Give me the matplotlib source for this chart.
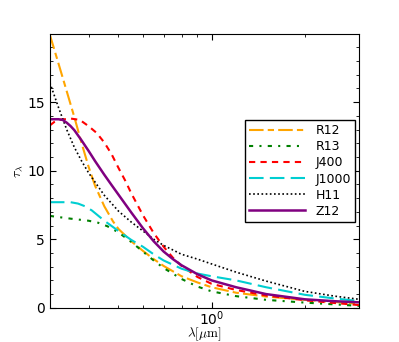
import matplotlib
matplotlib.use("Agg")
import matplotlib.pyplot as plt
from matplotlib.ticker import MultipleLocator, NullFormatter

# wavelength grids (micron) and extinction values
x_r12 = [0.30, 0.32, 0.34, 0.36, 0.38, 0.40, 0.42, 0.45, 0.48, 0.50, 0.55, 0.60, 0.65, 0.70, 0.80, 0.90, 1.00, 1.20, 1.50, 2.00, 2.50, 3.00]
y_r12 = [19.9, 17.8, 15.8, 13.9, 12.0, 10.3, 8.9, 7.4, 6.3, 5.75, 4.85, 4.15, 3.55, 3.05, 2.3, 1.85, 1.5, 1.1, 0.82, 0.58, 0.42, 0.30]

x_r13 = [0.30, 0.35, 0.40, 0.43, 0.46, 0.50, 0.55, 0.60, 0.65, 0.70, 0.80, 0.90, 1.00, 1.20, 1.50, 2.00, 2.50, 3.00]
y_r13 = [6.7, 6.5, 6.35, 6.2, 5.95, 5.5, 4.8, 4.1, 3.45, 2.9, 2.1, 1.55, 1.2, 0.85, 0.58, 0.38, 0.25, 0.14]

x_j400 = [0.30, 0.31, 0.32, 0.35, 0.375, 0.40, 0.425, 0.45, 0.475, 0.50, 0.525, 0.55, 0.60, 0.65, 0.70, 0.75, 0.80, 0.90, 1.00, 1.20, 1.50, 2.00, 2.50, 3.00]
y_j400 = [13.3, 13.55, 13.7, 13.8, 13.7, 13.25, 12.75, 12.05, 11.2, 10.2, 9.3, 8.35, 6.75, 5.45, 4.45, 3.65, 3.05, 2.25, 1.75, 1.3, 0.9, 0.55, 0.35, 0.2]

x_j1000 = [0.30, 0.33, 0.35, 0.37, 0.39, 0.41, 0.45, 0.50, 0.55, 0.60, 0.65, 0.70, 0.80, 0.90, 1.00, 1.20, 1.50, 2.00, 2.50, 3.00]
y_j1000 = [7.7, 7.7, 7.7, 7.6, 7.4, 7.1, 6.35, 5.6, 4.95, 4.45, 3.9, 3.45, 2.85, 2.5, 2.3, 2.0, 1.5, 0.95, 0.68, 0.49]

x_h11 = [0.30, 0.32, 0.34, 0.36, 0.38, 0.40, 0.45, 0.50, 0.55, 0.60, 0.65, 0.70, 0.80, 0.90, 1.00, 1.20, 1.50, 2.00, 2.50, 3.00]
y_h11 = [16.4, 14.6, 13.0, 11.7, 10.7, 9.85, 8.2, 7.05, 6.25, 5.6, 5.0, 4.55, 3.9, 3.55, 3.2, 2.6, 1.95, 1.2, 0.85, 0.62]

x_z12 = [0.30, 0.32, 0.33, 0.34, 0.35, 0.36, 0.38, 0.40, 0.42, 0.45, 0.475, 0.50, 0.55, 0.60, 0.65, 0.70, 0.75, 0.80, 0.90, 1.00, 1.20, 1.50, 2.00, 2.50, 3.00]
y_z12 = [13.75, 13.75, 13.7, 13.5, 13.25, 12.95, 12.2, 11.45, 10.7, 9.7, 8.95, 8.25, 6.95, 5.8, 4.85, 4.1, 3.55, 3.1, 2.45, 2.0, 1.5, 1.0, 0.62, 0.48, 0.40]

labels = ["R12", "R13", "J400", "J1000", "H11", "Z12"]

fig = plt.figure(figsize=(3.99, 3.42), dpi=100)
ax = fig.add_axes([0.125, 0.1, 0.775, 0.8])

ax.plot(x_r12, y_r12, color="orange", lw=1.5, dashes=(7, 2, 3, 2), label=labels[0])
ax.plot(x_r13, y_r13, color="green", lw=1.5, dashes=(2, 3, 1, 3), label=labels[1])
ax.plot(x_j400, y_j400, color="red", lw=1.5, dashes=(3, 2.5), label=labels[2])
ax.plot(x_j1000, y_j1000, color="darkturquoise", lw=1.5, dashes=(7, 3), label=labels[3])
ax.plot(x_h11, y_h11, color="black", lw=1.2, dashes=(1, 1.5), label=labels[4])
ax.plot(x_z12, y_z12, color="purple", lw=1.8, label=labels[5])

ax.set_xscale("log")
ax.set_xlim(0.3, 3.0)
ax.set_ylim(0, 19.95)
ax.xaxis.set_minor_formatter(NullFormatter())
ax.yaxis.set_major_locator(MultipleLocator(5))
ax.yaxis.set_minor_locator(MultipleLocator(1))
ax.tick_params(which="both", direction="in", top=True, right=True, labelsize=10)
ax.tick_params(which="major", length=4)
ax.tick_params(which="minor", length=2)
ax.tick_params(axis="x", which="both", pad=1)
ax.set_xlabel(r"$\lambda[\mu\mathrm{m}]$", fontsize=9.5, math_fontfamily="cm", va="top")
ax.xaxis.set_label_coords(0.5, -0.066)
ax.set_ylabel(r"$\tau_\lambda$", fontsize=10, math_fontfamily="cm", labelpad=2)

leg = ax.legend(loc="center right", fontsize=9, handlelength=4.5, handletextpad=0.8,
                labelspacing=0.25, borderpad=0.35, borderaxespad=0.3,
                fancybox=False, framealpha=1, edgecolor="black")
leg.get_frame().set_linewidth(1.0)

fig.savefig("out.png", dpi=100)
